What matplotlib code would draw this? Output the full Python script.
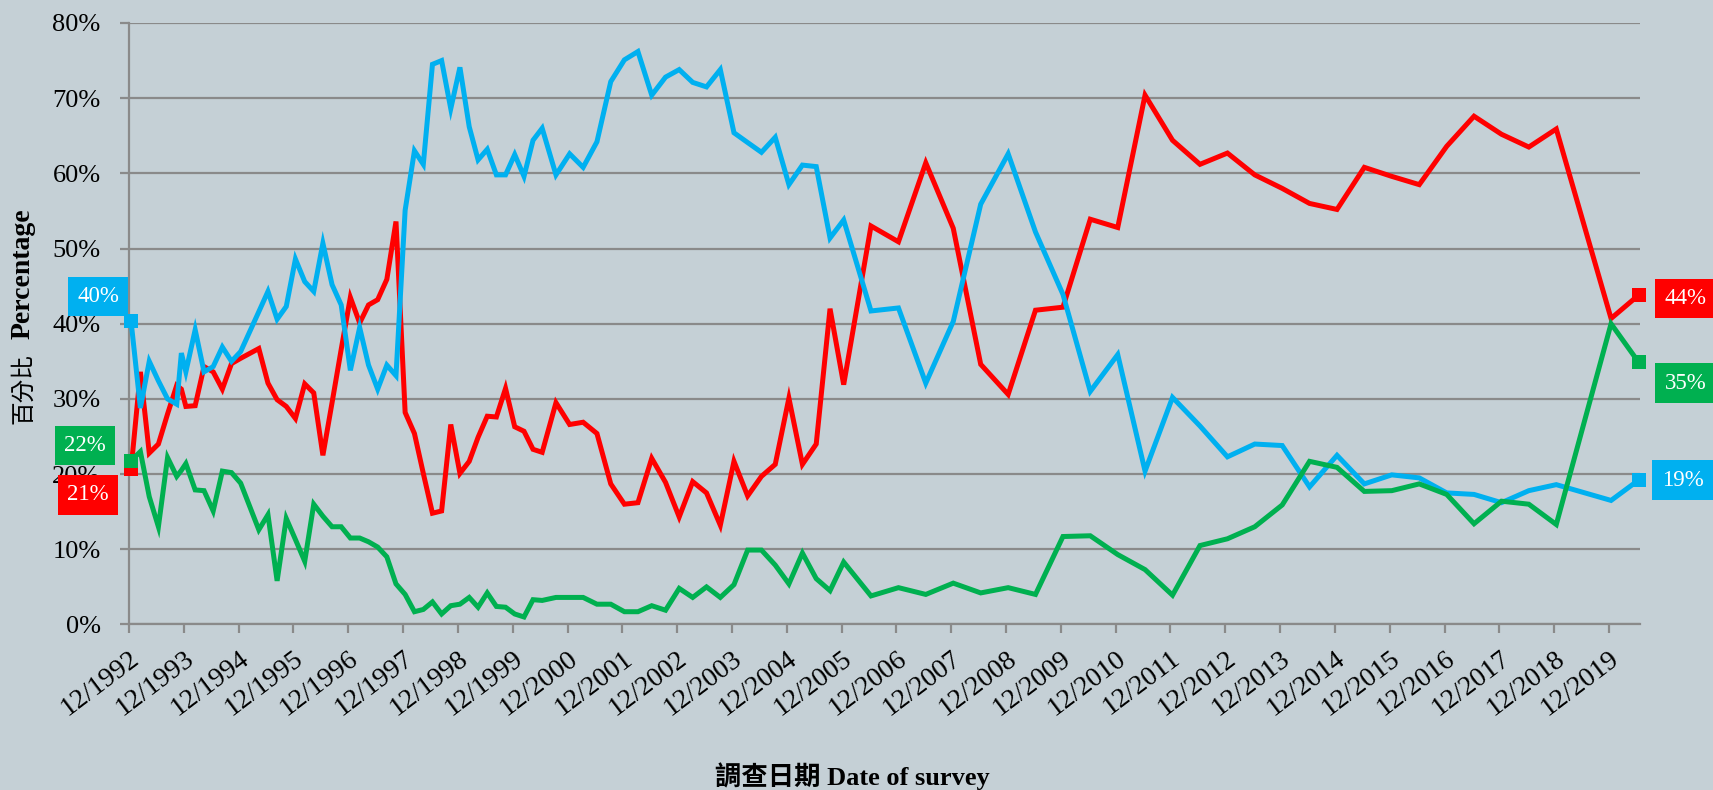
import matplotlib
matplotlib.use("Agg")
import matplotlib.pyplot as plt
import matplotlib.dates as mdates
import pandas as pd

plt.rcParams['font.family'] = ['Liberation Serif', 'Noto Sans CJK TC']

# ---- data (survey month, percentages) ----
survey_months = [
    "1992-12", "1993-02", "1993-04", "1993-06", "1993-08", "1993-10", "1993-11", "1993-12",
    "1994-02", "1994-04", "1994-06", "1994-08", "1994-10", "1994-12",
    "1995-04", "1995-06", "1995-08", "1995-10", "1995-12",
    "1996-02", "1996-04", "1996-06", "1996-08", "1996-10", "1996-12",
    "1997-02", "1997-04", "1997-06", "1997-08", "1997-10", "1997-12",
    "1998-02", "1998-04", "1998-06", "1998-08", "1998-10", "1998-12",
    "1999-02", "1999-04", "1999-06", "1999-08", "1999-10", "1999-12",
    "2000-02", "2000-04", "2000-06", "2000-09", "2000-12",
    "2001-03", "2001-06", "2001-09", "2001-12",
    "2002-03", "2002-06", "2002-09", "2002-12",
    "2003-03", "2003-06", "2003-09", "2003-12",
    "2004-03", "2004-06", "2004-09", "2004-12",
    "2005-03", "2005-06", "2005-09", "2005-12",
    "2006-06", "2006-12", "2007-06", "2007-12", "2008-06", "2008-12",
    "2009-06", "2009-12", "2010-06", "2010-12", "2011-06", "2011-12",
    "2012-06", "2012-12", "2013-06", "2013-12", "2014-06", "2014-12",
    "2015-06", "2015-12", "2016-06", "2016-12", "2017-06", "2017-12",
    "2018-06", "2018-12", "2019-12", "2020-06",
]

red_pct = [
    20.7, 33.6, 22.8, 24.0, 28.0, 31.8, 31.3, 29.0,
    29.1, 34.3, 33.6, 31.3, 34.7, 35.4,
    36.7, 32.1, 29.9, 29.0, 27.4,
    32.0, 30.8, 22.5, 29.5, 36.6, 43.5,
    40.1, 42.5, 43.2, 45.9, 53.6, 28.2,
    25.4, 20.1, 14.8, 15.1, 26.6, 20.1,
    21.7, 24.9, 27.7, 27.6, 31.4, 26.3,
    25.7, 23.3, 22.9, 29.5, 26.6,
    26.9, 25.4, 18.7, 16.0,
    16.2, 22.1, 18.9, 14.3,
    19.0, 17.5, 13.2, 21.7,
    17.1, 19.7, 21.3, 30.1,
    21.3, 24.0, 42.0, 31.9,
    53.0, 50.9, 61.4, 52.7, 34.6, 30.6,
    41.8, 42.2, 53.9, 52.8, 70.4, 64.4,
    61.2, 62.7, 59.8, 58.0, 56.0, 55.2,
    60.8, 59.6, 58.5, 63.6, 67.6, 65.2,
    63.5, 65.9, 40.7, 43.8,
]

blue_pct = [
    40.3, 28.8, 35.0, 32.4, 30.0, 29.3, 36.1, 33.6,
    39.2, 33.6, 34.3, 36.9, 35.0, 36.3,
    41.6, 44.3, 40.6, 42.3, 48.6,
    45.6, 44.3, 50.7, 45.2, 42.5, 33.8,
    39.5, 34.5, 31.3, 34.5, 33.1, 55.1,
    63.0, 61.2, 74.5, 75.0, 68.6, 74.1,
    66.2, 61.8, 63.2, 59.8, 59.8, 62.5,
    59.6, 64.4, 66.0, 59.8, 62.6,
    60.8, 64.2, 72.2, 75.1,
    76.2, 70.4, 72.8, 73.8,
    72.1, 71.5, 73.8, 65.4,
    64.1, 62.8, 64.8, 58.5,
    61.1, 60.9, 51.4, 53.8,
    41.7, 42.1, 32.1, 40.3, 55.9, 62.6,
    52.2, 43.9, 31.0, 35.9, 20.4, 30.2,
    26.4, 22.3, 24.0, 23.8, 18.3, 22.5,
    18.7, 19.9, 19.5, 17.5, 17.3, 16.2,
    17.8, 18.6, 16.5, 19.2,
]

green_pct = [
    21.8, 23.0, 17.0, 13.0, 22.2, 19.7, 20.5, 21.4,
    17.9, 17.8, 15.1, 20.4, 20.2, 18.8,
    12.6, 14.6, 5.8, 14.1, 11.3,
    8.4, 16.0, 14.4, 13.0, 13.0, 11.5,
    11.5, 11.0, 10.3, 9.0, 5.4, 4.0,
    1.7, 2.0, 3.0, 1.4, 2.5, 2.7,
    3.6, 2.3, 4.2, 2.4, 2.3, 1.4,
    1.0, 3.3, 3.2, 3.6, 3.6,
    3.6, 2.7, 2.7, 1.7,
    1.7, 2.5, 1.9, 4.8,
    3.6, 5.0, 3.6, 5.3,
    9.9, 9.9, 7.9, 5.4,
    9.5, 6.1, 4.5, 8.3,
    3.8, 4.9, 4.0, 5.5, 4.2, 4.9,
    4.0, 11.7, 11.8, 9.3, 7.3, 3.9,
    10.5, 11.4, 13.0, 15.9, 21.7, 20.9,
    17.7, 17.8, 18.7, 17.3, 13.4, 16.4,
    16.0, 13.3, 40.0, 34.9,
]

RED = "#FF0000"
BLUE = "#00B0F0"
GREEN = "#00B050"
BG = "#C5D0D6"
GRID = "#8A8A8A"

dates = pd.to_datetime(survey_months, format="%Y-%m") + pd.Timedelta(days=14)

fig = plt.figure(figsize=(17.13, 7.9), dpi=100, facecolor=BG)
ax = fig.add_axes([0.0753, 0.2095, 0.9574 - 0.0753, 0.9709 - 0.2095])
ax.set_facecolor(BG)

lw = 3.6
for vals, col in [(red_pct, RED), (blue_pct, BLUE), (green_pct, GREEN)]:
    ax.plot(dates, vals, color=col, lw=lw, solid_joinstyle='miter',
            marker='s', markevery=[0, len(vals) - 1], ms=10, mew=0,
            zorder=3, clip_on=False)

ax.set_ylim(0, 80)
ax.set_yticks(range(0, 81, 10))
ax.set_yticklabels([f"{v}%" for v in range(0, 81, 10)])
ax.set_xlim(pd.Timestamp("1992-12-01"), pd.Timestamp("2020-06-25"))
ax.xaxis.set_major_locator(mdates.MonthLocator(bymonth=12, bymonthday=1))
ax.xaxis.set_major_formatter(mdates.DateFormatter("%m/%Y"))

ax.grid(axis='y', color=GRID, lw=1.6, zorder=1)
ax.set_axisbelow(True)
for s in ['top', 'right']:
    ax.spines[s].set_visible(False)
for s in ['left', 'bottom']:
    ax.spines[s].set_color(GRID)
    ax.spines[s].set_linewidth(1.6)

ax.tick_params(axis='y', length=6.5, width=1.6, color=GRID, pad=14, labelsize=19)
ax.tick_params(axis='x', length=6.5, width=1.6, color=GRID, pad=9, labelsize=20)
for lab in ax.get_xticklabels():
    lab.set_rotation(37)
    lab.set_ha('right')
    lab.set_va('top')
    lab.set_rotation_mode('anchor')

# axis titles
fig.text(0.0138, 0.5076, "百分比", rotation=90, ha='center', va='center', fontsize=17)
fig.text(0.0134, 0.6532, "Percentage", rotation=90, ha='center', va='center',
         fontsize=20, fontweight='bold')
fig.text(0.4975, 0.017, "調查日期 Date of survey", ha='center', va='center',
         fontsize=19, fontweight='bold')

# value boxes at both ends
def box(x, y, val, col, dx, dy):
    ax.annotate(f"{round(val)}%", xy=(x, y), xytext=(dx, dy),
                textcoords='offset pixels', ha='center', va='center',
                color='white', fontsize=16.5, annotation_clip=False,
                bbox=dict(boxstyle='square,pad=0.4', fc=col, ec='none'), zorder=5)

box(dates[0], blue_pct[0], blue_pct[0], BLUE, -33, 25)
box(dates[0], green_pct[0], green_pct[0], GREEN, -46, 15)
box(dates[0], red_pct[0], red_pct[0], RED, -43, -26)
box(dates[-1], red_pct[-1], red_pct[-1], RED, 47, -3)
box(dates[-1], green_pct[-1], green_pct[-1], GREEN, 47, -21)
box(dates[-1], blue_pct[-1], blue_pct[-1], BLUE, 44, 0)

fig.savefig("out.png", dpi=100, facecolor=BG)
